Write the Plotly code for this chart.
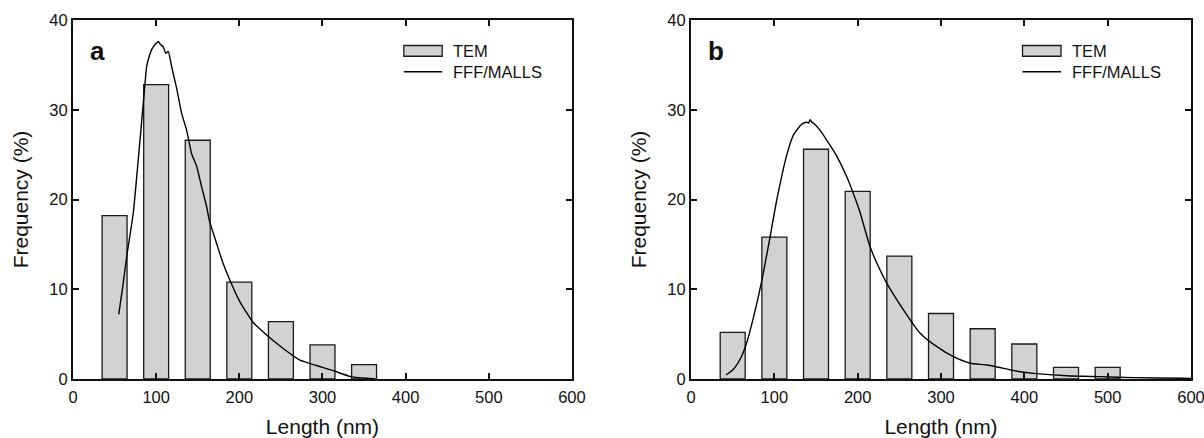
import plotly.graph_objects as go

# ---------------- data ----------------
bin_centers_a = [50, 100, 150, 200, 250, 300, 350]
tem_a = [18.2, 32.8, 26.6, 10.8, 6.4, 3.8, 1.6]

bin_centers_b = [50, 100, 150, 200, 250, 300, 350, 400, 450, 500]
tem_b = [5.2, 15.8, 25.6, 20.9, 13.7, 7.3, 5.6, 3.9, 1.3, 1.3]

fff_a_x = [55, 60, 64.5, 72.5, 79.5, 86.5, 88.5, 91.5, 94.6, 98, 100, 102.5, 105, 108.5,
           111.4, 114.6, 118.6, 124.6, 130.6, 136.7, 142.6, 148.7, 154.7, 160.7, 163.8,
           172.7, 180, 188.7, 200.7, 216.7, 232.8, 252.8, 272.8, 292.9, 312.9, 332.9, 352.9, 362]
fff_a_y = [7.2, 10.4, 13.6, 18.5, 25.5, 32.8, 34.8, 35.9, 36.7, 37.2, 37.4, 37.6, 37.3, 37.0,
           36.3, 36.5, 34.8, 32.4, 29.6, 27.7, 25.1, 23.7, 21.4, 19.2, 17.7,
           15.1, 13.0, 11.0, 8.6, 6.3, 4.9, 3.4, 2.1, 1.5, 0.93, 0.3, 0.08, 0.03]

fff_b_x = [42, 50, 60, 67, 75, 85, 94, 103, 115, 123, 133, 139, 141, 143, 145, 147, 155, 165,
           175, 187, 199, 203, 215, 225, 235, 255, 275, 295, 315, 335, 355, 375, 395, 411,
           451, 491, 531, 587, 600]
fff_b_y = [0.45, 1.0, 2.4, 4.1, 6.9, 11.0, 15.4, 20.0, 25.0, 27.2, 28.4, 28.6, 28.5, 28.9, 28.6,
           28.5, 27.7, 26.3, 24.8, 22.5, 19.6, 18.5, 14.7, 12.5, 10.66, 7.7, 5.1, 3.6, 2.48,
           1.75, 1.56, 1.19, 0.81, 0.63, 0.37, 0.26, 0.15, 0.08, 0.06]

x_ticks = [0, 100, 200, 300, 400, 500, 600]
y_ticks = [0, 10, 20, 30, 40]
panel_labels = ["a", "b"]
legend_names = ["TEM", "FFF/MALLS"]

# ---------------- style ----------------
FONT = "Liberation Sans, Arial, Helvetica, sans-serif"
BAR_FILL = "#d2d2d2"
EDGE = "#1a1a1a"

fig = go.Figure()

fig.add_trace(go.Bar(x=bin_centers_a, y=tem_a, width=30, xaxis="x", yaxis="y",
                     marker=dict(color=BAR_FILL, line=dict(color=EDGE, width=1.3)),
                     name=legend_names[0], showlegend=False))
fig.add_trace(go.Scatter(x=fff_a_x, y=fff_a_y, mode="lines", xaxis="x", yaxis="y",
                         line=dict(color="black", width=1.4, shape="spline", smoothing=0.4),
                         name=legend_names[1], showlegend=False))
fig.add_trace(go.Bar(x=bin_centers_b, y=tem_b, width=30, xaxis="x2", yaxis="y2",
                     marker=dict(color=BAR_FILL, line=dict(color=EDGE, width=1.3)),
                     name=legend_names[0], showlegend=False))
fig.add_trace(go.Scatter(x=fff_b_x, y=fff_b_y, mode="lines", xaxis="x2", yaxis="y2",
                         line=dict(color="black", width=1.4, shape="spline", smoothing=0.6),
                         name=legend_names[1], showlegend=False))

axis_common = dict(showline=True, linewidth=2, linecolor="#111", mirror="ticks",
                   ticks="inside", ticklen=6, tickwidth=1.5, tickcolor="#111",
                   showgrid=False, zeroline=False, automargin=False,
                   ticklabeloverflow="allow",
                   tickfont=dict(family=FONT, size=16.5, color="#111"))

xcommon = dict(axis_common, range=[0, 600], tickvals=x_ticks, ticklabelstandoff=2,
               title=dict(text="Length (nm)", font=dict(family=FONT, size=21, color="#111")))
ycommon = dict(axis_common, range=[0, 40], tickvals=y_ticks,
               title=dict(text="Frequency (%)", font=dict(family=FONT, size=21, color="#111"),
                          standoff=15))

fig.update_layout(
    template="none",
    width=1204, height=438,
    margin=dict(l=73, r=13, t=20, b=59, autoexpand=False),
    paper_bgcolor="white", plot_bgcolor="white",
    showlegend=False, barmode="overlay",
    xaxis=dict(xcommon, domain=[0, 0.4463], anchor="y"),
    yaxis=dict(ycommon, domain=[0, 1], anchor="x"),
    xaxis2=dict(xcommon, domain=[0.5528, 1], anchor="y2"),
    yaxis2=dict(ycommon, domain=[0, 1], anchor="x2"),
)

# panel labels and manual legends
shapes = []
annotations = []
for i, (xa, ya) in enumerate([("x", "y"), ("x2", "y2")]):
    xr = xa + " domain"
    yr = ya + " domain"
    annotations.append(dict(text="<b>%s</b>" % panel_labels[i], xref=xr, yref=yr,
                            x=0.05, y=0.915, xanchor="center", yanchor="middle",
                            showarrow=False, font=dict(family=FONT, size=26, color="#111")))
    shapes.append(dict(type="rect", xref=xr, yref=yr, x0=0.663, x1=0.74,
                       y0=0.899, y1=0.929, fillcolor=BAR_FILL,
                       line=dict(color=EDGE, width=1.3)))
    shapes.append(dict(type="line", xref=xr, yref=yr, x0=0.663, x1=0.74,
                       y0=0.856, y1=0.856, line=dict(color="black", width=1.4)))
    annotations.append(dict(text=legend_names[0], xref=xr, yref=yr, x=0.758, y=0.914,
                            xanchor="left", yanchor="middle", showarrow=False,
                            font=dict(family=FONT, size=16.5, color="#111")))
    annotations.append(dict(text=legend_names[1], xref=xr, yref=yr, x=0.758, y=0.855,
                            xanchor="left", yanchor="middle", showarrow=False,
                            font=dict(family=FONT, size=16.5, color="#111")))

fig.update_layout(shapes=shapes, annotations=annotations)

# remove the default page margin so the figure fills the 1204x438 window exactly
fig.write_html("out.html",
               config={"displayModeBar": False},
               post_script="document.body.style.margin='0';"
                           "document.documentElement.style.overflow='hidden';")
